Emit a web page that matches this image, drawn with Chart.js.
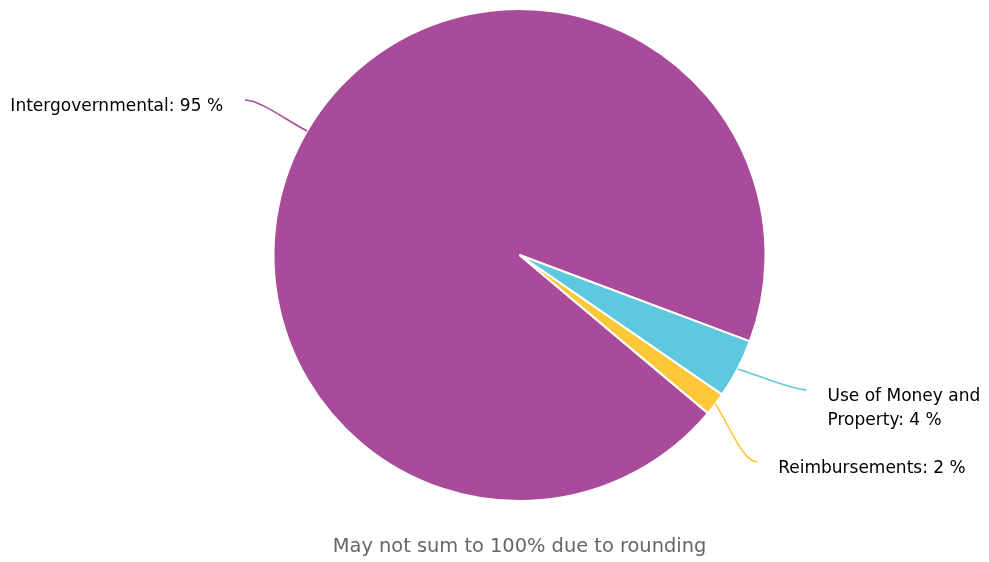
<!DOCTYPE html>
<html>
<head>
<meta charset="utf-8">
<title>Revenue by Source</title>
<script src="https://cdn.jsdelivr.net/npm/chart.js@4"></script>
<style>
  html, body { margin: 0; padding: 0; background: #fff; }
  #wrap { width: 989px; height: 562px; position: relative; }
</style>
</head>
<body>
<div id="wrap"><canvas id="revenueChart"></canvas></div>
<script>
const categories = ['Intergovernmental', 'Use of Money and Property', 'Reimbursements'];
const shares = [94.6, 3.9, 1.5];
const sliceColors = ['#a94b9b', '#5ec8df', '#fdc737'];
const footNote = 'May not sum to 100% due to rounding';

const LABEL_FONT = '17px "DejaVu Sans", sans-serif';
const NOTE_FONT = '19.4px "DejaVu Sans", sans-serif';

// where each label's connector ends, relative to the point where it touches the slice
const labelOffsets = [
    { dx: -62, dy: -31, wrap: 260 },
    { dx: 69, dy: 21, wrap: 175 },
    { dx: 42, dy: 58, wrap: 220 }
];

function wrapText(ctx, text, maxWidth) {
    const words = text.split(' ');
    const lines = [];
    let line = '';
    words.forEach(w => {
        const test = line ? line + ' ' + w : w;
        if (line && ctx.measureText(test).width > maxWidth) {
            lines.push(line);
            line = w;
        } else {
            line = test;
        }
    });
    if (line) lines.push(line);
    return lines;
}

const sliceLabels = {
    id: 'sliceLabels',
    afterDraw(chart) {
        const ctx = chart.ctx;
        const meta = chart.getDatasetMeta(0);
        ctx.save();
        ctx.font = LABEL_FONT;
        meta.data.forEach((arc, i) => {
            const p = arc.getProps(['x', 'y', 'startAngle', 'endAngle', 'outerRadius'], true);
            const mid = (p.startAngle + p.endAngle) / 2;
            const ex = p.x + p.outerRadius * Math.cos(mid);
            const ey = p.y + p.outerRadius * Math.sin(mid);
            const off = labelOffsets[i];
            const ax = ex + off.dx;
            const ay = ey + off.dy;
            const onLeft = ax < p.x;

            // soft connector
            const c1x = ax + (onLeft ? 15 : -15);
            const c2x = ex + (ax - ex) * 0.3;
            const c2y = ey + (ay - ey) * 0.3;
            ctx.beginPath();
            ctx.moveTo(ax, ay);
            ctx.bezierCurveTo(c1x, ay, c2x, c2y, ex, ey);
            ctx.strokeStyle = sliceColors[i];
            ctx.lineWidth = 1.6;
            ctx.stroke();

            const text = categories[i] + ': ' + Math.round(shares[i]) + ' %';
            const lines = wrapText(ctx, text, off.wrap);
            ctx.fillStyle = '#000';
            ctx.textBaseline = 'middle';
            ctx.textAlign = onLeft ? 'right' : 'left';
            const tx = onLeft ? ax - 22 : ax + 21;
            lines.forEach((ln, k) => ctx.fillText(ln, tx, ay + 6.5 + k * 24));
        });

        // note under the pie
        ctx.font = NOTE_FONT;
        ctx.fillStyle = '#666';
        ctx.textAlign = 'center';
        ctx.textBaseline = 'middle';
        const area = chart.chartArea;
        ctx.fillText(footNote, (area.left + area.right) / 2, 547);
        ctx.restore();
    }
};

new Chart(document.getElementById('revenueChart'), {
    type: 'pie',
    data: {
        labels: categories,
        datasets: [{
            data: shares,
            backgroundColor: sliceColors,
            borderColor: '#fff',
            borderWidth: 2,
            hoverOffset: 0,
            radius: 246
        }]
    },
    options: {
        responsive: true,
        maintainAspectRatio: false,
        animation: false,
        rotation: 130,
        layout: { padding: { left: 219, right: 169, top: 9, bottom: 61 } },
        plugins: {
            legend: { display: false },
            tooltip: { enabled: false }
        }
    },
    plugins: [sliceLabels]
});
</script>
</body>
</html>
